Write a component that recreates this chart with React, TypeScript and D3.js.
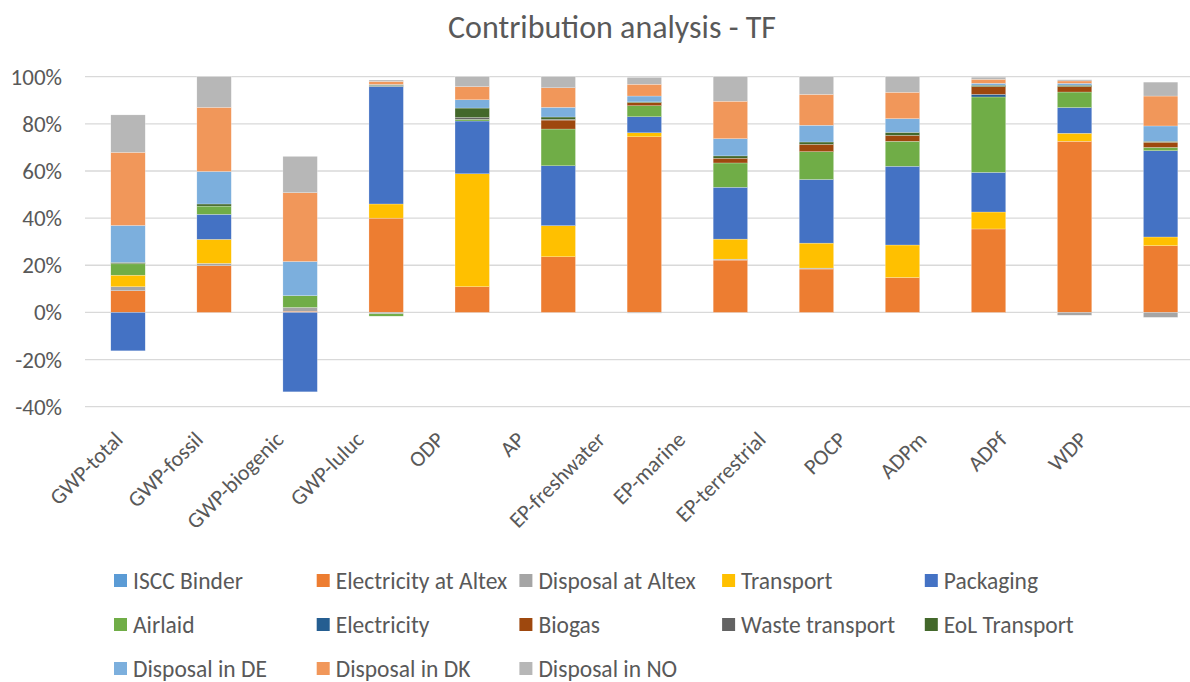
import React, { useEffect, useRef } from "react";
import * as d3 from "d3";

const categories = [
  "GWP-total",
  "GWP-fossil",
  "GWP-biogenic",
  "GWP-luluc",
  "ODP",
  "AP",
  "EP-freshwater",
  "EP-marine",
  "EP-terrestrial",
  "POCP",
  "ADPm",
  "ADPf",
  "WDP",
];

const seriesNames = [
  "ISCC Binder",
  "Electricity at Altex",
  "Disposal at Altex",
  "Transport",
  "Packaging",
  "Airlaid",
  "Electricity",
  "Biogas",
  "Waste transport",
  "EoL Transport",
  "Disposal in DE",
  "Disposal in DK",
  "Disposal in NO",
];

const seriesColors = [
  "#5B9BD5",
  "#ED7D31",
  "#A5A5A5",
  "#FFC000",
  "#4472C4",
  "#70AD47",
  "#255E91",
  "#9E480E",
  "#636363",
  "#43682B",
  "#7CAFDD",
  "#F1975A",
  "#B7B7B7",
];

// values in %, one entry per category (same order as categories)
const iscc = [0, 0, 0, 0, 0, 0, 0, 0, 0, 0, 0, 0, 0];
const elecAltex = [9.2, 19.8, 0.5, 40.0, 10.9, 23.6, 74.5, 22.2, 18.4, 14.8, 35.4, 72.6, 28.3];
const dispAltex = [1.7, 1.0, 1.6, -0.6, 0, 0, -0.3, 0.4, 0.4, 0, 0, -1.2, -2.1];
const transport = [4.9, 10.2, 0, 6.0, 47.9, 13.2, 1.7, 8.5, 10.6, 13.8, 7.2, 3.4, 3.7];
const packaging = [-16.3, 10.6, -33.7, 49.8, 22.4, 25.4, 6.8, 22.0, 27.0, 33.4, 16.8, 10.9, 36.6];
const airlaid = [4.8, 3.5, 5.0, -1.0, 0.7, 15.6, 4.7, 10.3, 11.8, 10.6, 32.0, 6.6, 1.4];
const electricity = [0, 0, 0, 0, 0, 0, 0, 0, 0, 0, 1.1, 0, 0];
const biogas = [0.1, 0, 0, 0, 0, 3.8, 1.3, 2.0, 3.1, 2.5, 3.3, 2.3, 2.2];
const wasteTransport = [0, 0, 0, 0.2, 0.8, 0.3, 0, 0, 0, 0, 0, 0, 0];
const eolTransport = [0.5, 0.9, 0, 0.4, 4.0, 1.0, 0.3, 1.0, 1.0, 1.3, 0.6, 0.6, 0.4];
const dispDE = [15.7, 13.8, 14.5, 0.3, 3.5, 4.1, 2.5, 7.3, 7.1, 5.8, 0.8, 0.8, 6.5];
const dispDK = [31.0, 27.2, 29.2, 1.3, 5.6, 8.3, 5.0, 15.9, 13.1, 11.2, 1.7, 1.0, 12.7];
const dispNO = [15.9, 13.0, 15.4, 0.6, 4.2, 4.7, 2.9, 10.4, 7.5, 6.6, 0.9, 0.5, 5.9];

const seriesValues = [
  iscc,
  elecAltex,
  dispAltex,
  transport,
  packaging,
  airlaid,
  electricity,
  biogas,
  wasteTransport,
  eolTransport,
  dispDE,
  dispDK,
  dispNO,
];

const yTicks = [-40, -20, 0, 20, 40, 60, 80, 100];

const FONT = "Carlito, Calibri, Lato, sans-serif";
const TEXT = "#595959";

function App() {
  const chartRef = useRef(null);

  useEffect(() => {
    const width = 1190;
    const height = 682;

    d3.select(chartRef.current).selectAll("*").remove();

    const svg = d3
      .select(chartRef.current)
      .append("svg")
      .attr("width", width)
      .attr("height", height)
      .style("display", "block")
      .style("background", "#fff");

    const rows = categories.map((c, i) => {
      const row = { category: c };
      seriesNames.forEach((s, j) => {
        row[s] = seriesValues[j][i];
      });
      return row;
    });

    const step = 86.05;
    const x = d3
      .scaleBand()
      .domain(categories)
      .range([85, 85 + step * categories.length])
      .paddingInner(0.6)
      .paddingOuter(0.3);

    const y = d3.scaleLinear().domain([-40, 100]).range([406.7, 76.7]);

    // title
    svg
      .append("text")
      .attr("x", 612)
      .attr("y", 38)
      .attr("text-anchor", "middle")
      .style("font-family", FONT)
      .style("font-size", "32px")
      .style("fill", TEXT)
      .text("Contribution analysis - TF");

    // gridlines
    svg
      .append("g")
      .selectAll("line")
      .data(yTicks)
      .enter()
      .append("line")
      .attr("x1", 85)
      .attr("x2", width)
      .attr("y1", (d) => y(d))
      .attr("y2", (d) => y(d))
      .style("stroke", "#D9D9D9")
      .style("stroke-width", 1.3);

    // y labels
    svg
      .append("g")
      .selectAll("text")
      .data(yTicks)
      .enter()
      .append("text")
      .attr("x", 62)
      .attr("y", (d) => y(d))
      .attr("dy", "0.35em")
      .attr("text-anchor", "end")
      .style("font-family", FONT)
      .style("font-size", "23px")
      .style("fill", TEXT)
      .text((d) => d + "%");

    // stacked bars, negatives stack down from zero
    const stack = d3
      .stack()
      .keys(seriesNames)
      .offset(d3.stackOffsetDiverging);
    const layers = stack(rows);

    svg
      .append("g")
      .selectAll("g")
      .data(layers)
      .enter()
      .append("g")
      .style("fill", (d, i) => seriesColors[i])
      .selectAll("rect")
      .data((d) => d.filter((p) => p[1] !== p[0]))
      .enter()
      .append("rect")
      .attr("x", (d) => x(d.data.category))
      .attr("width", x.bandwidth())
      .attr("y", (d) => y(Math.max(d[0], d[1])))
      .attr("height", (d) => Math.abs(y(d[0]) - y(d[1])))
      .style("stroke", "#fff")
      .style("stroke-width", 0.4)
      .style("stroke-opacity", 0.6);

    // x labels, rotated -45deg (Excel pulls short labels a little left)
    const first = x(categories[0]) + x.bandwidth() / 2;
    const last = x(categories[categories.length - 1]) + x.bandwidth() / 2;
    const labelX = d3
      .scalePoint()
      .domain(categories)
      .range([first - 4, last - 72]);

    svg
      .append("g")
      .selectAll("text")
      .data(categories)
      .enter()
      .append("text")
      .attr(
        "transform",
        (d) => `translate(${labelX(d)},${441}) rotate(-45)`
      )
      .attr("text-anchor", "end")
      .style("font-family", FONT)
      .style("font-size", "22px")
      .style("fill", TEXT)
      .text((d) => d);

    // legend
    const legend = svg
      .append("g")
      .selectAll("g")
      .data(seriesNames)
      .enter()
      .append("g")
      .attr(
        "transform",
        (d, i) =>
          `translate(${114 + (i % 5) * 202.7},${580.5 + Math.floor(i / 5) * 44})`
      );

    legend
      .append("rect")
      .attr("x", 0)
      .attr("y", -6.5)
      .attr("width", 13)
      .attr("height", 13)
      .style("fill", (d, i) => seriesColors[i]);

    legend
      .append("text")
      .attr("x", 19)
      .attr("y", 0)
      .attr("dy", "0.35em")
      .style("font-family", FONT)
      .style("font-size", "23.5px")
      .style("fill", TEXT)
      .text((d) => d);
  }, []);

  return (
    <div
      style={{ position: "absolute", left: 0, top: 0 }}
      ref={chartRef}
    ></div>
  );
}

export default App;
